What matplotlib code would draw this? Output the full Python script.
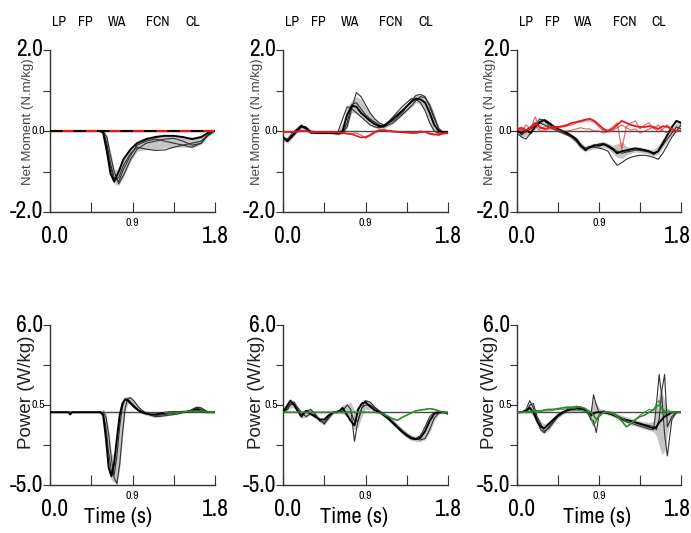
import numpy as np
import matplotlib
matplotlib.use('Agg')
import matplotlib.pyplot as plt

NARROW = ['Archivo Narrow', 'DejaVu Sans']
ARIAL = ['Liberation Sans', 'DejaVu Sans']
plt.rcParams['font.family'] = NARROW

# ─────────────────────────────────────────────
# DATA
# ─────────────────────────────────────────────
phase_names = ['LP', 'FP', 'WA', 'FCN', 'CL']
phase_x = [0.10, 0.39, 0.73, 1.18, 1.56]

# --- Net moment, panel 1 ---
m1_t = [0.55, 0.58, 0.62, 0.66, 0.70, 0.75, 0.80, 0.88, 0.95, 1.05, 1.15, 1.25,
        1.35, 1.45, 1.55, 1.65, 1.72, 1.78, 1.80]
m1_mean = [0, -0.05, -0.5, -1.05, -1.25, -1.0, -0.7, -0.45, -0.3, -0.2, -0.15, -0.12,
           -0.12, -0.15, -0.2, -0.15, -0.05, 0, 0]
m1_tr1 = [0, 0, -0.15, -0.6, -1.0, -1.3, -1.1, -0.7, -0.45, -0.3, -0.25, -0.2,
          -0.18, -0.25, -0.35, -0.3, -0.1, -0.02, 0]
m1_tr2 = [0, -0.02, -0.4, -0.9, -1.2, -1.15, -0.85, -0.55, -0.4, -0.45, -0.48, -0.47,
          -0.4, -0.35, -0.3, -0.25, -0.1, -0.02, 0]
m1_tr3 = [0, 0, -0.3, -0.8, -1.15, -1.25, -0.95, -0.6, -0.35, -0.25, -0.2, -0.25,
          -0.3, -0.35, -0.4, -0.3, -0.12, -0.03, 0]
m1_lo = [0, -0.08, -0.6, -1.1, -1.3, -1.35, -1.15, -0.75, -0.5, -0.45, -0.45, -0.42,
         -0.4, -0.4, -0.42, -0.33, -0.15, -0.04, 0]
m1_hi = [0, 0, -0.1, -0.5, -0.95, -0.95, -0.65, -0.4, -0.25, -0.15, -0.1, -0.08,
         -0.1, -0.12, -0.15, -0.1, -0.03, 0, 0]
m1_red_t = [0.0, 0.3, 0.6, 0.9, 1.2, 1.5, 1.8]
m1_red = [0, 0, 0, 0, 0, 0, 0]

# --- Net moment, panel 2 ---
m2_t = [0, 0.05, 0.1, 0.15, 0.2, 0.25, 0.3, 0.4, 0.5, 0.6, 0.65, 0.7, 0.75, 0.8, 0.85,
        0.9, 0.95, 1.0, 1.05, 1.1, 1.2, 1.3, 1.4, 1.45, 1.5, 1.55, 1.6, 1.65, 1.7, 1.75, 1.8]
m2_mean = [-0.15, -0.25, -0.12, 0.0, 0.12, 0.08, -0.03, -0.05, -0.05, -0.05, 0.0, 0.4,
           0.62, 0.6, 0.45, 0.35, 0.25, 0.17, 0.12, 0.12, 0.3, 0.5, 0.72, 0.8, 0.78,
           0.7, 0.45, 0.15, 0.0, -0.03, -0.03]
m2_tr1 = [-0.2, -0.22, -0.1, 0.02, 0.1, 0.05, -0.05, -0.05, -0.05, -0.05, -0.05, 0.1,
          0.55, 0.95, 0.85, 0.65, 0.45, 0.3, 0.2, 0.15, 0.25, 0.45, 0.75, 0.88, 0.9,
          0.85, 0.6, 0.3, 0.05, -0.05, -0.05]
m2_tr2 = [-0.18, -0.2, -0.05, 0.05, 0.15, 0.05, -0.05, -0.05, -0.05, -0.02, 0.3, 0.6,
          0.55, 0.45, 0.35, 0.25, 0.15, 0.1, 0.08, 0.1, 0.35, 0.6, 0.8, 0.78, 0.7,
          0.5, 0.2, 0.0, -0.05, -0.05, -0.05]
m2_tr3 = [-0.2, -0.25, -0.15, -0.02, 0.1, 0.1, 0, -0.03, -0.04, -0.08, -0.05, 0.2,
          0.65, 0.7, 0.55, 0.4, 0.3, 0.22, 0.15, 0.1, 0.2, 0.4, 0.62, 0.75, 0.85,
          0.82, 0.65, 0.35, 0.05, -0.05, -0.05]
m2_lo = [-0.25, -0.3, -0.18, -0.05, 0.05, 0.03, -0.06, -0.07, -0.07, -0.1, -0.08, 0.1,
         0.45, 0.45, 0.35, 0.25, 0.15, 0.08, 0.05, 0.05, 0.18, 0.38, 0.58, 0.7, 0.65,
         0.5, 0.15, -0.02, -0.08, -0.08, -0.06]
m2_hi = [-0.12, -0.15, -0.05, 0.05, 0.15, 0.12, 0, -0.02, -0.02, 0, 0.2, 0.6,
         0.75, 0.85, 0.78, 0.6, 0.45, 0.32, 0.22, 0.18, 0.35, 0.55, 0.78, 0.88, 0.88,
         0.85, 0.7, 0.45, 0.1, 0, 0]
m2_red1 = [-0.02, -0.02, -0.03, -0.02, 0, 0, -0.03, -0.03, -0.03, -0.03, -0.04, -0.06,
           -0.08, -0.12, -0.16, -0.15, -0.1, -0.02, 0.02, 0.02, -0.02, -0.03, -0.05,
           -0.05, -0.03, -0.02, -0.06, -0.08, -0.1, -0.06, -0.05]
m2_red2 = [-0.05, -0.03, -0.02, 0, 0.02, 0, -0.02, -0.03, -0.02, -0.02, -0.05, -0.08,
           -0.06, -0.05, -0.1, -0.18, -0.12, -0.05, 0, 0.03, 0, -0.02, -0.04, -0.03,
           0, -0.03, -0.08, -0.1, -0.05, -0.05, -0.04]

# --- Net moment, panel 3 ---
m3_t = [0, 0.05, 0.1, 0.15, 0.2, 0.25, 0.3, 0.35, 0.4, 0.45, 0.5, 0.55, 0.6, 0.65,
        0.7, 0.75, 0.8, 0.85, 0.9, 0.95, 1.0, 1.05, 1.1, 1.15, 1.2, 1.25, 1.3, 1.35,
        1.4, 1.45, 1.5, 1.55, 1.6, 1.65, 1.7, 1.75, 1.8]
m3_mean = [0.0, -0.05, 0.02, -0.05, 0.1, 0.22, 0.27, 0.2, 0.12, 0.05, 0.0, -0.05,
           -0.12, -0.2, -0.35, -0.47, -0.4, -0.35, -0.36, -0.33, -0.38, -0.45, -0.55,
           -0.5, -0.48, -0.45, -0.43, -0.45, -0.47, -0.5, -0.55, -0.5, -0.3, -0.1,
           0.1, 0.25, 0.2]
m3_tr1 = [0.05, -0.1, 0.0, 0.05, 0.15, 0.3, 0.25, 0.15, 0.1, 0.05, -0.02, -0.08,
          -0.15, -0.25, -0.4, -0.45, -0.42, -0.38, -0.32, -0.3, -0.35, -0.42, -0.5,
          -0.55, -0.52, -0.5, -0.47, -0.48, -0.5, -0.52, -0.58, -0.5, -0.35, -0.2,
          -0.05, 0.1, 0.05]
m3_tr2 = [-0.05, -0.15, -0.2, -0.05, 0.15, 0.2, 0.15, 0.1, 0.05, 0, -0.05, -0.1,
          -0.15, -0.25, -0.35, -0.42, -0.38, -0.4, -0.42, -0.45, -0.5, -0.7, -0.85,
          -0.78, -0.7, -0.65, -0.62, -0.6, -0.6, -0.62, -0.65, -0.7, -0.55, -0.35,
          -0.15, 0.0, 0.15]
m3_lo = [-0.08, -0.15, -0.12, -0.08, 0.05, 0.15, 0.15, 0.08, 0.03, -0.03, -0.08, -0.12,
         -0.2, -0.3, -0.45, -0.52, -0.47, -0.43, -0.42, -0.4, -0.45, -0.55, -0.65,
         -0.68, -0.6, -0.55, -0.52, -0.53, -0.55, -0.58, -0.62, -0.58, -0.42, -0.25,
         -0.1, 0.0, 0.0]
m3_hi = [0.08, 0.05, 0.05, 0.08, 0.18, 0.3, 0.32, 0.25, 0.15, 0.08, 0.03, -0.02,
         -0.08, -0.15, -0.28, -0.38, -0.33, -0.3, -0.28, -0.27, -0.3, -0.35, -0.32,
         -0.25, -0.38, -0.4, -0.38, -0.4, -0.42, -0.45, -0.45, -0.35, -0.2, -0.05,
         0.1, 0.2, 0.25]
m3_red1 = [0.05, 0.08, 0.02, 0.1, 0.2, 0.1, 0.05, 0.08, 0.1, 0.1, 0.12, 0.15, 0.2,
           0.22, 0.25, 0.28, 0.3, 0.25, 0.15, 0.05, 0.0, 0.05, 0.15, 0.25, 0.2, 0.15,
           0.12, 0.1, 0.1, 0.12, 0.1, 0.05, 0.12, 0.1, 0.05, 0.0, 0.0]
m3_red2 = [0.1, 0.0, 0.15, 0.05, 0.35, 0.05, 0.1, 0.15, 0.05, 0.08, 0.1, 0.12, 0.15,
           0.2, 0.22, 0.25, 0.25, 0.22, 0.1, 0.0, 0.02, 0.1, 0.2, -0.45, 0.1, 0.2,
           0.25, 0.05, 0.15, 0.2, 0.05, 0.15, 0.0, -0.05, 0.0, 0.0, 0.0]
m3_red3 = [0.0, 0.05, -0.05, 0.1, 0.15, 0.0, 0.0, 0.05, 0.05, 0.02, 0.0, 0.0, 0.02,
           0.05, 0.08, 0.05, 0.05, 0.0, 0.0, -0.05, -0.02, 0.0, 0.08, 0.15, 0.08, 0.02,
           0.05, -0.05, 0.0, 0.05, 0.1, -0.03, 0.05, 0.15, 0.05, 0.0, 0.0]

# --- Power, panel 4 ---
p1_t = [0, 0.1, 0.2, 0.22, 0.24, 0.3, 0.4, 0.5, 0.55, 0.58, 0.61, 0.64, 0.67, 0.70,
        0.73, 0.76, 0.79, 0.82, 0.85, 0.88, 0.92, 0.96, 1.0, 1.05, 1.1, 1.15, 1.2,
        1.3, 1.4, 1.5, 1.55, 1.6, 1.65, 1.7, 1.75, 1.8]
p1_mean = [0, 0, 0, -0.15, 0, 0, 0, 0, 0, -0.2, -1.8, -3.8, -4.4, -3.5, -1.8, -0.2,
           0.6, 0.9, 0.8, 0.6, 0.35, 0.15, 0.0, -0.1, -0.15, -0.15, -0.1, 0, 0, 0.05,
           0.1, 0.2, 0.1, 0.0, 0, 0]
p1_tr1 = [0, 0, 0, 0, 0, 0, 0, 0, 0, 0, -0.3, -1.5, -3.2, -4.5, -4.9, -3.6, -1.5, 0.3,
          0.95, 1.0, 0.75, 0.4, 0.15, -0.05, -0.2, -0.3, -0.28, -0.2, -0.1, 0.05, 0.2,
          0.35, 0.3, 0.1, 0, 0]
p1_tr2 = [0, 0, 0, 0, 0, 0, 0, 0, 0, -0.1, -1.0, -2.8, -4.1, -4.3, -3.0, -1.0, 0.4,
          0.9, 0.9, 0.7, 0.45, 0.2, 0.05, -0.05, -0.15, -0.2, -0.2, -0.1, -0.05, 0.05,
          0.15, 0.3, 0.2, 0.05, 0, 0]
p1_lo = [0, 0, 0, 0, 0, 0, 0, 0, 0, -0.5, -2.3, -4.1, -4.7, -4.8, -5.0, -3.9, -1.8,
         0.0, 0.6, 0.6, 0.3, 0.05, -0.1, -0.2, -0.3, -0.35, -0.32, -0.22, -0.12, -0.02,
         0.05, 0.1, 0.05, -0.02, 0, 0]
p1_hi = [0, 0, 0, 0, 0, 0, 0, 0, 0.1, 0.2, 0, -1.2, -2.8, -3.0, -1.5, 0.0, 0.8, 1.05,
         1.1, 1.05, 0.8, 0.45, 0.2, 0.05, -0.05, -0.05, 0, 0.05, 0.05, 0.12, 0.25,
         0.45, 0.4, 0.15, 0.05, 0]
p1_green_t = [1.25, 1.35, 1.45, 1.5, 1.55, 1.6, 1.65, 1.7, 1.8]
p1_green = [0, -0.05, 0.0, 0.05, 0.1, 0.05, 0.1, 0.02, 0]

# --- Power, panel 5 ---
p2_t = [0, 0.05, 0.08, 0.12, 0.16, 0.2, 0.25, 0.3, 0.35, 0.4, 0.45, 0.5, 0.55, 0.6,
        0.65, 0.7, 0.74, 0.78, 0.82, 0.86, 0.9, 0.95, 1.0, 1.05, 1.1, 1.15, 1.2, 1.25,
        1.3, 1.35, 1.4, 1.45, 1.5, 1.55, 1.6, 1.65, 1.7, 1.75, 1.8]
p2_mean = [0, 0.5, 0.8, 0.5, 0.1, -0.3, 0.1, -0.1, -0.3, -0.5, -0.5, -0.2, 0, 0, 0.3,
           -0.2, -0.6, -0.9, 0.2, 0.6, 0.7, 0.4, 0.15, 0.0, -0.2, -0.45, -0.75, -1.05,
           -1.35, -1.6, -1.8, -1.85, -1.75, -1.3, -0.6, -0.1, 0.0, 0.0, -0.1]
p2_tr1 = [0, 0.3, 0.6, 0.7, 0.3, 0, -0.3, -0.1, -0.2, -0.5, -0.8, -0.4, 0, 0.1, 0, 0,
          0, -0.6, -0.6, 0.3, 0.8, 0.7, 0.35, 0.1, -0.1, -0.35, -0.65, -0.95, -1.25,
          -1.5, -1.7, -1.85, -1.9, -1.8, -1.2, -0.4, -0.05, 0, 0]
p2_tr2 = [0, 0.2, 0.5, 0.6, 0.2, -0.2, 0.05, 0.2, -0.1, -0.6, -0.7, -0.3, 0, 0, 0.1,
          0.5, 0.2, -2.0, -0.5, 0.3, 0.5, 0.5, 0.3, 0.05, -0.15, -0.4, -0.7, -1.0,
          -1.3, -1.55, -1.75, -1.8, -1.6, -1.0, -0.3, 0.0, 0, 0, 0]
p2_lo = [0, 0.1, 0.3, 0.3, -0.05, -0.4, -0.35, -0.2, -0.4, -0.7, -0.9, -0.5, -0.1,
         -0.05, -0.1, -0.3, -0.8, -1.2, -1.0, -0.3, 0.2, 0.2, 0.05, -0.1, -0.3, -0.55,
         -0.9, -1.2, -1.5, -1.75, -1.95, -2.0, -2.0, -1.9, -1.4, -0.6, -0.15, -0.05, -0.1]
p2_hi = [0, 0.6, 0.9, 0.8, 0.4, 0.1, 0.15, 0.25, 0.0, -0.35, -0.45, -0.15, 0.05, 0.15,
         0.5, 0.6, 0.7, 0.1, 0.4, 0.8, 0.9, 0.75, 0.45, 0.15, 0.0, -0.2, -0.45, -0.8,
         -1.1, -1.35, -1.55, -1.65, -1.5, -1.0, -0.3, 0.05, 0.1, 0.05, 0]
p2_green = [0, 0, 0, 0, 0, 0, 0, 0, 0, 0, 0, 0, 0, 0, 0, 0, 0, 0, 0, 0, 0, 0, 0,
            -0.05, -0.15, -0.3, -0.45, -0.55, -0.35, -0.2, -0.05, 0.1, 0.15, 0.2,
            0.25, 0.2, 0.1, 0.0, -0.05]

# --- Power, panel 6 ---
p3_t = [0, 0.05, 0.1, 0.14, 0.18, 0.22, 0.26, 0.3, 0.35, 0.4, 0.45, 0.5, 0.55, 0.6,
        0.65, 0.7, 0.75, 0.78, 0.81, 0.84, 0.87, 0.9, 0.95, 1.0, 1.05, 1.1, 1.15, 1.2,
        1.25, 1.3, 1.35, 1.4, 1.45, 1.5, 1.53, 1.56, 1.59, 1.62, 1.65, 1.7, 1.75, 1.8]
p3_mean = [0, 0, 0.1, 0.3, 0.0, -0.6, -1.0, -1.1, -0.8, -0.5, -0.2, 0.0, 0.15, 0.2,
           0.2, 0.25, 0.15, 0.0, -0.2, -0.1, 0.0, 0.0, 0.0, -0.05, -0.15, -0.3, -0.45,
           -0.55, -0.6, -0.7, -0.8, -0.9, -1.0, -1.1, -1.0, -0.7, -0.5, -0.3, -0.2,
           0.0, 0.0, 0.0]
p3_tr1 = [0, 0, 0.2, 0.8, 0.3, -0.5, -1.2, -1.4, -1.0, -0.6, -0.3, -0.1, 0.1, 0.2,
          0.25, 0.3, 0.2, 0.0, -0.3, 1.2, 0.5, 0.0, 0.0, -0.1, -0.2, -0.35, -0.5,
          -0.65, -0.75, -0.85, -0.95, -1.05, -1.15, -1.2, 0.5, 2.6, 1.0, -1.5, -3.0,
          -0.5, 0, 0]
p3_tr2 = [0, 0, 0, 0.5, 0.6, -0.3, -0.8, -1.3, -1.1, -0.7, -0.3, 0.0, 0.1, 0.25, 0.3,
          0.35, 0.2, -0.1, -0.5, -0.6, -1.4, -0.2, 0.1, 0.0, -0.1, -0.25, -0.4, -0.5,
          -0.6, -0.7, -0.75, -0.85, -0.9, -1.0, -1.2, -0.5, 1.5, 2.6, -1.0, -0.3, 0, 0]
p3_lo = [0, 0, -0.05, 0, -0.3, -0.9, -1.35, -1.5, -1.2, -0.8, -0.4, -0.15, 0.0, 0.05,
         0.05, 0.1, 0.0, -0.2, -0.7, -1.0, -0.6, -0.2, -0.1, -0.2, -0.3, -0.45, -0.6,
         -0.75, -0.85, -0.95, -1.05, -1.15, -1.25, -1.35, -1.6, -2.3, -2.9, -2.7,
         -1.5, -0.3, -0.05, 0]
p3_hi = [0, 0, 0.15, 0.6, 0.4, -0.2, -0.6, -0.8, -0.6, -0.3, -0.05, 0.1, 0.3, 0.4,
         0.45, 0.45, 0.35, 0.2, 0.2, 0.9, 0.7, 0.3, 0.15, 0.1, 0.0, -0.1, -0.2, -0.3,
         -0.4, -0.5, -0.6, -0.65, -0.7, -0.6, 0.3, 1.3, 1.5, 0.8, 0.3, 0.1, 0.05, 0]
p3_green1 = [0, 0, 0, 0.05, 0.1, 0.1, 0.1, 0.15, 0.2, 0.2, 0.25, 0.3, 0.35, 0.35, 0.4,
             0.35, 0.25, 0.1, 0.0, -0.2, -0.5, -0.3, 0.0, 0.0, -0.1, -0.3, -0.6, -1.0,
             -0.8, -0.5, -0.3, -0.2, 0.0, 0.2, 0.4, 0.5, 0.3, 0.1, 0.0, 0, 0, 0]
p3_green2 = [0, 0, 0, 0, 0, 0, 0.05, 0.1, 0.1, 0.15, 0.2, 0.2, 0.25, 0.3, 0.2, 0.1,
             0.05, 0.0, -0.3, -0.9, -0.6, -0.2, 0.0, 0.05, 0.0, -0.2, -0.4, -0.6, -0.7,
             -0.5, -0.2, 0.0, 0.2, 0.1, 0.6, 0.8, 0.2, -0.2, 0.1, 0, 0, 0]

# ─────────────────────────────────────────────
# STYLE
# ─────────────────────────────────────────────
W, H = 691, 533
BAND = '#c6c6c6'
RED = '#e41a1c'
GREEN = '#2e8b2e'
BIG, SMALL = 17, 8.5

fig = plt.figure(figsize=(W / 100, H / 100), dpi=100)


def add_axes_px(x0, y0, x1, y1):
    return fig.add_axes([x0 / W, 1 - y1 / H, (x1 - x0) / W, (y1 - y0) / H])


def draw_panel(ax, t, lo, hi, mean, trials, colored):
    ax.fill_between(t, lo, hi, color=BAND, lw=0, zorder=1)
    ax.axhline(0, color='#4a4a4a', lw=1.0, zorder=2)
    for tr in trials:
        ax.plot(t, tr, color='#303030', lw=0.8, zorder=3)
    ax.plot(t, mean, color='black', lw=1.4, zorder=4)
    for ct, cv, col, lw, alpha in colored:
        ax.plot(ct, cv, color=col, lw=lw, alpha=alpha, zorder=5)


def style_axes(ax, yticks, ylabels, last_dx=0):
    ax.set_xlim(0, 1.8)
    ax.set_ylim(yticks[0], yticks[-1])
    for s in ['top', 'right']:
        ax.spines[s].set_visible(False)
    for s in ['left', 'bottom']:
        ax.spines[s].set_color('#333333')
        ax.spines[s].set_linewidth(1.0)
    ax.set_xticks([0, 0.45, 0.9, 1.35, 1.8])
    ax.set_xticklabels([])
    ax.set_yticks(yticks)
    ax.set_yticklabels([])
    ax.tick_params(axis='x', direction='in', length=7, width=0.8, color='#333333')
    ax.tick_params(axis='y', direction='out', length=5, width=0.8, color='#333333')
    for xv, s, big, dx in [(0.0, '0.0', True, 3), (0.9, '0.9', False, 0),
                           (1.8, '1.8', True, last_dx)]:
        ax.annotate(s, xy=(xv, 0), xycoords=('data', 'axes fraction'),
                    xytext=(dx, -10 if big else -4),
                    textcoords='offset points', ha='center', va='top',
                    fontsize=BIG if big else SMALL, color='black')
    for i, (yv, s) in enumerate(zip([yticks[0], yticks[2], yticks[4]], ylabels)):
        big = i != 1
        ax.annotate(s, xy=(0, yv), xycoords=('axes fraction', 'data'),
                    xytext=(-5 if big else -3.6, 0), textcoords='offset points',
                    ha='right', va='center', fontsize=BIG if big else SMALL,
                    color='black')


cols = [(50, 215), (283, 448), (517, 681)]
top_row = (50, 212)
bot_row = (325, 485)

moment_ticks = [-2, -1, 0, 1, 2]
moment_labels = ['-2.0', '0.0', '2.0']
power_ticks = [-5, -2.25, 0.5, 3.25, 6]
power_labels = ['-5.0', '0.5', '6.0']

moment_panels = [
    (m1_t, m1_lo, m1_hi, m1_mean, [m1_tr1, m1_tr2, m1_tr3],
     [(m1_red_t, m1_red, RED, 1.6, 1.0)]),
    (m2_t, m2_lo, m2_hi, m2_mean, [m2_tr1, m2_tr2, m2_tr3],
     [(m2_t, m2_red1, RED, 1.2, 1.0), (m2_t, m2_red2, RED, 0.8, 0.8)]),
    (m3_t, m3_lo, m3_hi, m3_mean, [m3_tr1, m3_tr2],
     [(m3_t, m3_red3, RED, 0.8, 0.7), (m3_t, m3_red2, RED, 0.8, 0.7),
      (m3_t, m3_red1, RED, 1.3, 1.0)]),
]
power_panels = [
    (p1_t, p1_lo, p1_hi, p1_mean, [p1_tr1, p1_tr2],
     [(p1_green_t, p1_green, GREEN, 1.2, 1.0)]),
    (p2_t, p2_lo, p2_hi, p2_mean, [p2_tr1, p2_tr2],
     [(p2_t, p2_green, GREEN, 1.2, 1.0)]),
    (p3_t, p3_lo, p3_hi, p3_mean, [p3_tr1, p3_tr2],
     [(p3_t, p3_green2, GREEN, 0.8, 0.9), (p3_t, p3_green1, GREEN, 1.2, 1.0)]),
]

ylab_x_moment = [-0.10, -0.12, -0.125]
ylab_x_power = [-0.09, -0.11, -0.115]
time_x = [0.41, 0.43, 0.49]
last_dx = [0, 0, -2.5]

for i, (x0, x1) in enumerate(cols):
    # ── top: net moment ──
    ax = add_axes_px(x0, top_row[0], x1, top_row[1])
    draw_panel(ax, *moment_panels[i])
    if i == 0:
        ax.axhline(0, color='black', lw=1.3, dashes=(7, 6), zorder=6)
    style_axes(ax, moment_ticks, moment_labels, last_dx[i])
    ax.set_ylabel('Net Moment (N.m/kg)', family=ARIAL, fontsize=9.5, color='#444444')
    ax.yaxis.set_label_coords(ylab_x_moment[i], 0.56)
    for name, xv in zip(phase_names, phase_x):
        ax.annotate(name, xy=(xv, 1), xycoords=('data', 'axes fraction'),
                    xytext=(0, 20), textcoords='offset points',
                    ha='center', va='center', fontsize=10, color='black')

    # ── bottom: power ──
    ax = add_axes_px(x0, bot_row[0], x1, bot_row[1])
    draw_panel(ax, *power_panels[i])
    style_axes(ax, power_ticks, power_labels, last_dx[i])
    ax.set_ylabel('Power (W/kg)', family=ARIAL, fontsize=13.5, color='#222222')
    ax.yaxis.set_label_coords(ylab_x_power[i], 0.58)
    ax.annotate('Time (s)', xy=(time_x[i], 0), xycoords='axes fraction',
                xytext=(0, -23), textcoords='offset points',
                ha='center', va='center', fontsize=16, color='black')

fig.savefig('out.png', dpi=100)
